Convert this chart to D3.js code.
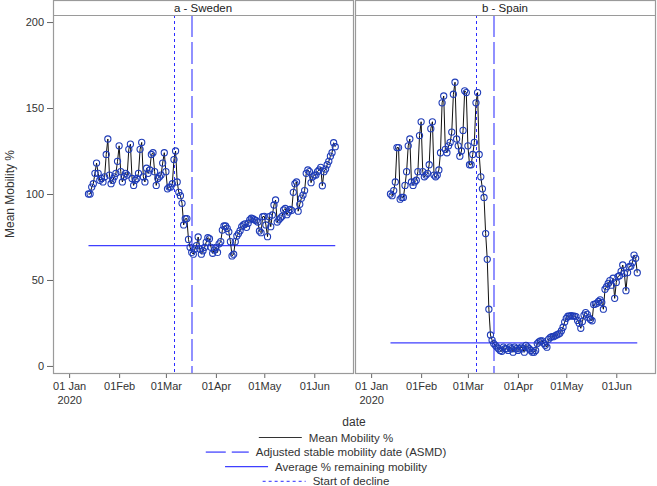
<!DOCTYPE html>
<html lang="en">
<head>
<meta charset="utf-8">
<style>
    body { margin: 0; background: #fff; }
    svg { display: block; font-family: "Liberation Sans", Arial, sans-serif; }
</style>
</head>
<body>
<svg width="657" height="486"></svg>
<script src="https://cdn.jsdelivr.net/npm/d3@7/dist/d3.min.js"></script>
<script>
    /************************************************************************************
    * Data
    ************************************************************************************/
    const panels = ["a - Sweden", "b - Spain"];
    const firstDay = "2020-01-13";

    // daily mean mobility %, 13 Jan - 14 Jun 2020
    const sweden = [
        100, 100, 104, 106, 112, 118, 112,
        108, 109, 107, 110, 123, 132, 111,
        106, 108, 110, 112, 119, 128, 113,
        107, 110, 112, 111, 126, 129, 109,
        105, 108, 109, 112, 126, 130, 110,
        107, 115, 112, 114, 123, 124, 113,
        105, 109, 110, 111, 118, 124, 113,
        103, 104, 104, 106, 120, 125, 107,
        101, 99, 94.6, 82, 85.6, 85.7, 73.6,
        69, 66, 65, 68, 70, 75, 68,
        65, 67, 69, 72, 74.6, 74, 69,
        65.5, 67.4, 69, 66, 71, 72.3, 79, 81.4, 81.4, 80,
        78, 72.3, 64, 65, 72.3, 75.6, 77, 78.7, 81, 82,
        82.6, 80.6, 83, 85, 85.9, 85.5, 85, 84.5, 83.7, 78.5,
        77.5, 86.8, 87, 82, 75.2,
        86.8, 81, 87.8, 93.6, 96.5, 83.7, 85, 86, 87, 90.7,
        91.6, 88, 89.5, 91, 90.5, 101, 106, 107, 90, 94,
        97.6, 99.4, 102, 112, 114, 113, 106.6, 110, 111, 111,
        113, 114, 115.5, 104.8, 113, 114.5, 117, 119, 122, 124,
        129.8, 127.5
    ];
    const spain = [
        100, 99, 102, 107, 127, 127, 97,
        98, 98, 105, 113, 128, 132, 107,
        105, 107, 108, 113, 134, 142, 113,
        110, 111, 112, 117, 138, 142, 111,
        110, 111, 114, 124, 153, 157, 126,
        124, 128, 130, 136, 158, 165, 132,
        128, 122, 125, 137, 160, 159, 128,
        117, 117, 123, 130, 153, 159, 123,
        110, 103, 98, 77, 62, 33, 18,
        15, 13, 12, 11, 10, 9, 8.5,
        11, 10, 10, 9, 11, 10, 8,
        11, 10, 9, 10, 11, 10, 8,
        12, 11, 10, 9, 8, 8, 9,
        13, 14, 14.5, 14.6, 13.2, 12, 10.9,
        15.5, 16.5, 17, 17, 17.5, 18, 18.5,
        19, 20.5, 22.5, 25.5, 27.7, 28.9, 29,
        29.2, 29, 29, 28.7, 26.5, 24.8, 21.9,
        25.8, 29.6, 31, 30, 28, 27, 26.3,
        35.8, 36, 36.5, 37.5, 38.4, 37, 33,
        44.6, 46.1, 48, 49.6, 47, 51, 39.3,
        48.6, 52, 52.5, 55, 58.7, 53.9, 43.8,
        54.3, 57.7, 58, 60, 64.5, 62.6, 54.2
    ];

    const remaining = [70, 13.4];                       // Average % remaining mobility
    const declineStart = ["2020-03-06", "2020-03-06"];  // Start of decline
    const asmdDate = ["2020-03-17", "2020-03-17"];      // ASMD

    const yTicks = [0, 50, 100, 150, 200];
    const xTicks = ["2020-01-01", "2020-02-01", "2020-03-01", "2020-04-01", "2020-05-01", "2020-06-01"];
    const xTickLabels = [["01 Jan", "2020"], ["01Feb"], ["01Mar"], ["01Apr"], ["01May"], ["01Jun"]];
    const legendItems = ["Mean Mobility %", "Adjusted stable mobility date (ASMD)", "Average % remaining mobility", "Start of decline"];

    /************************************************************************************
    * Setup
    ************************************************************************************/
    const svg = d3.select("svg");
    const parse = d3.utcParse("%Y-%m-%d");

    const panelX = [53, 355];
    const panelW = 300;
    const headerH = 15;
    const plotBottom = 373;

    const blue = { dot: "#2b2bff", asmd: "#7676ff", avg: "#3f3fff", marker: "#1f3cb8" };
    const frame = "#9a9a9a";

    const x = d3.scaleUtc()
        .domain([parse("2019-12-22"), parse("2020-06-25")])
        .range([0, panelW]);
    const y = d3.scaleLinear().domain([-4.1, 204.1]).range([plotBottom, headerH]);

    const start = parse(firstDay);
    const series = [sweden, spain].map(vals => {
        const days = d3.utcDay.range(start, d3.utcDay.offset(start, vals.length));
        return vals.map((v, i) => ({ date: days[i], value: v }));
    });

    const line = d3.line().x(d => x(d.date)).y(d => y(d.value));

    /************************************************************************************
    * Panels
    ************************************************************************************/
    panels.forEach((name, p) => {
        const g = svg.append("g").attr("transform", `translate(${panelX[p]},0)`);
        const data = series[p];
        const first = data[0].date, last = data[data.length - 1].date;

        // clip to plot area
        const clipId = "clip" + p;
        g.append("clipPath").attr("id", clipId)
            .append("rect").attr("x", 0).attr("y", headerH).attr("width", panelW).attr("height", plotBottom - headerH);
        const plot = g.append("g").attr("clip-path", `url(#${clipId})`);

        // Start of decline
        const xd = Math.round(x(parse(declineStart[p]))) + 0.5;
        plot.append("line")
            .attr("x1", xd).attr("x2", xd).attr("y1", headerH).attr("y2", plotBottom)
            .attr("stroke", blue.dot).attr("stroke-width", 1).attr("stroke-dasharray", "3,3");

        // ASMD
        const xa = Math.round(x(parse(asmdDate[p])));
        plot.append("line")
            .attr("x1", xa).attr("x2", xa).attr("y1", headerH).attr("y2", plotBottom)
            .attr("stroke", blue.asmd).attr("stroke-width", 1.6).attr("stroke-dasharray", "22,5");

        // Average % remaining mobility
        plot.append("line")
            .attr("x1", x(first)).attr("x2", x(last))
            .attr("y1", y(remaining[p])).attr("y2", y(remaining[p]))
            .attr("stroke", blue.avg).attr("stroke-width", 1.3);

        // mobility line + markers
        plot.append("path").datum(data)
            .attr("d", line)
            .attr("fill", "none").attr("stroke", "#111").attr("stroke-width", 1);
        plot.selectAll("circle").data(data).enter()
            .append("circle")
            .attr("cx", d => x(d.date)).attr("cy", d => y(d.value)).attr("r", 3.1)
            .attr("fill", "none").attr("stroke", blue.marker).attr("stroke-width", 1.1);

        // x axis
        const xAxis = g.append("g").attr("transform", `translate(0,${plotBottom})`)
            .call(d3.axisBottom(x).tickValues(xTicks.map(parse)).tickSize(5).tickPadding(4).tickFormat(""));
        xAxis.select(".domain").remove();
        xAxis.selectAll(".tick line").attr("stroke", "#666");
        xAxis.selectAll(".tick").each(function(d, i) {
            const t = d3.select(this).append("text")
                .attr("fill", "#333").attr("font-size", 11).attr("text-anchor", "middle")
                .attr("y", 17);
            xTickLabels[i].forEach((s, k) => {
                t.append("tspan").attr("x", 0).attr("dy", k === 0 ? 0 : 14).text(s);
            });
        });

        // frame + header strip
        g.append("rect")
            .attr("x", 0.5).attr("y", 0.5).attr("width", panelW).attr("height", plotBottom)
            .attr("fill", "none").attr("stroke", frame).attr("stroke-width", 1.2);
        g.append("line")
            .attr("x1", 0.5).attr("x2", panelW + 0.5).attr("y1", headerH + 0.5).attr("y2", headerH + 0.5)
            .attr("stroke", frame).attr("stroke-width", 1.2);
        g.append("text")
            .attr("x", panelW / 2).attr("y", 12)
            .attr("text-anchor", "middle").attr("font-size", 11.5).attr("fill", "#222")
            .text(name);

        // y axis on first panel only
        if (p === 0) {
            const yAxis = g.append("g")
                .call(d3.axisLeft(y).tickValues(yTicks).tickSize(6).tickPadding(3));
            yAxis.select(".domain").remove();
            yAxis.selectAll(".tick line").attr("stroke", "#666");
            yAxis.selectAll(".tick text").attr("fill", "#333").attr("font-size", 11)
                .attr("font-family", "Liberation Sans, Arial, sans-serif");
        }
    });

    /************************************************************************************
    * Axis titles
    ************************************************************************************/
    svg.append("text")
        .attr("transform", `translate(14,${(headerH + plotBottom) / 2}) rotate(-90)`)
        .attr("text-anchor", "middle").attr("font-size", 12).attr("fill", "#333")
        .text("Mean Mobility %");

    svg.append("text")
        .attr("x", (panelX[0] + panelX[1] + panelW) / 2).attr("y", 426)
        .attr("text-anchor", "middle").attr("font-size", 12).attr("fill", "#333")
        .text("date");

    /************************************************************************************
    * Legend
    ************************************************************************************/
    const legendStyles = [
        { stroke: "#333", width: 1, dash: null },
        { stroke: blue.asmd, width: 1.6, dash: "20,6" },
        { stroke: blue.avg, width: 1.3, dash: null },
        { stroke: blue.dot, width: 1, dash: "3,3" }
    ];
    const legendCx = 326, sampleW = 43, gap = 7;
    legendItems.forEach((label, i) => {
        const cy = 437.5 + i * 14.6;
        const row = svg.append("g");
        const txt = row.append("text")
            .attr("y", cy + 4).attr("font-size", 11.5).attr("fill", "#333")
            .text(label);
        const tw = txt.node().getComputedTextLength();
        const x0 = legendCx - (sampleW + gap + tw) / 2;
        txt.attr("x", x0 + sampleW + gap);
        row.append("line")
            .attr("x1", x0).attr("x2", x0 + sampleW).attr("y1", cy).attr("y2", cy)
            .attr("stroke", legendStyles[i].stroke).attr("stroke-width", legendStyles[i].width)
            .attr("stroke-dasharray", legendStyles[i].dash);
    });
</script>
</body>
</html>
